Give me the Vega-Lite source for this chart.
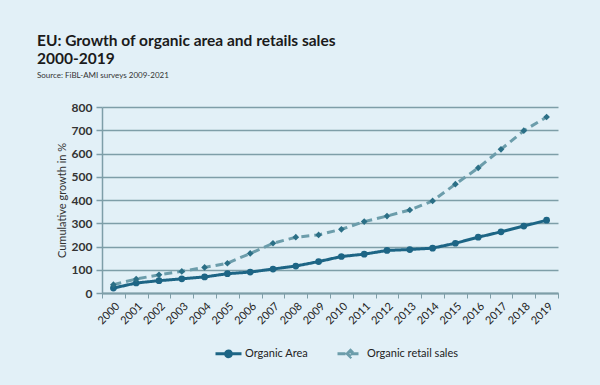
{
  "$schema": "https://vega.github.io/schema/vega-lite/v6.json",
  "autosize": {"type": "none"},
  "width": 456,
  "height": 186,
  "padding": {"left": 102, "top": 107, "right": 42, "bottom": 92},
  "background": "#e2f0f7",
  "title": {
    "text": ["EU: Growth of organic area and retails sales", "2000-2019"],
    "subtitle": "Source: FiBL-AMI surveys 2009-2021",
    "anchor": "start",
    "frame": "group",
    "dx": -65,
    "offset": 21,
    "font": "Lato",
    "fontSize": 15.5,
    "fontWeight": "bold",
    "color": "#1b1b1b",
    "lineHeight": 17.5,
    "subtitleFont": "Lato",
    "subtitleFontSize": 8,
    "subtitleColor": "#333333",
    "subtitlePadding": 5
  },
  "data": {
    "values": [
      {"year": "2000", "series": "Organic Area", "value": 21},
      {"year": "2001", "series": "Organic Area", "value": 43},
      {"year": "2002", "series": "Organic Area", "value": 53},
      {"year": "2003", "series": "Organic Area", "value": 61},
      {"year": "2004", "series": "Organic Area", "value": 69},
      {"year": "2005", "series": "Organic Area", "value": 83},
      {"year": "2006", "series": "Organic Area", "value": 90},
      {"year": "2007", "series": "Organic Area", "value": 103},
      {"year": "2008", "series": "Organic Area", "value": 116},
      {"year": "2009", "series": "Organic Area", "value": 135},
      {"year": "2010", "series": "Organic Area", "value": 157},
      {"year": "2011", "series": "Organic Area", "value": 167},
      {"year": "2012", "series": "Organic Area", "value": 183},
      {"year": "2013", "series": "Organic Area", "value": 187},
      {"year": "2014", "series": "Organic Area", "value": 193},
      {"year": "2015", "series": "Organic Area", "value": 214},
      {"year": "2016", "series": "Organic Area", "value": 240},
      {"year": "2017", "series": "Organic Area", "value": 263},
      {"year": "2018", "series": "Organic Area", "value": 288},
      {"year": "2019", "series": "Organic Area", "value": 313},
      {"year": "2000", "series": "Organic retail sales", "value": 36},
      {"year": "2001", "series": "Organic retail sales", "value": 60},
      {"year": "2002", "series": "Organic retail sales", "value": 78},
      {"year": "2003", "series": "Organic retail sales", "value": 93},
      {"year": "2004", "series": "Organic retail sales", "value": 110},
      {"year": "2005", "series": "Organic retail sales", "value": 128},
      {"year": "2006", "series": "Organic retail sales", "value": 170},
      {"year": "2007", "series": "Organic retail sales", "value": 214},
      {"year": "2008", "series": "Organic retail sales", "value": 240},
      {"year": "2009", "series": "Organic retail sales", "value": 250},
      {"year": "2010", "series": "Organic retail sales", "value": 274},
      {"year": "2011", "series": "Organic retail sales", "value": 307},
      {"year": "2012", "series": "Organic retail sales", "value": 331},
      {"year": "2013", "series": "Organic retail sales", "value": 357},
      {"year": "2014", "series": "Organic retail sales", "value": 396},
      {"year": "2015", "series": "Organic retail sales", "value": 468},
      {"year": "2016", "series": "Organic retail sales", "value": 538},
      {"year": "2017", "series": "Organic retail sales", "value": 618},
      {"year": "2018", "series": "Organic retail sales", "value": 698},
      {"year": "2019", "series": "Organic retail sales", "value": 757}
    ]
  },
  "encoding": {
    "x": {
      "field": "year",
      "type": "ordinal",
      "bandPosition": 0.5,
      "scale": {"type": "band", "paddingInner": 0, "paddingOuter": 0},
      "axis": {
        "title": null,
        "labelAngle": -45,
        "labelFont": "Lato",
        "labelFontSize": 11,
        "labelColor": "#222222",
        "tickBand": "extent",
        "tickColor": "#7e9ea8",
        "tickSize": 5,
        "domainColor": "#7e9ea8",
        "domainWidth": 2,
        "labelPadding": 2
      }
    },
    "y": {
      "field": "value",
      "type": "quantitative",
      "scale": {"domain": [0, 800]},
      "axis": {
        "title": "Cumulative growth in %",
        "titleFont": "Lato",
        "titleFontSize": 11,
        "titleFontWeight": "normal",
        "titleColor": "#333333",
        "titleX": -35,
        "values": [0, 100, 200, 300, 400, 500, 600, 700, 800],
        "labelFont": "Lato",
        "labelFontSize": 12,
        "labelFontWeight": "bold",
        "labelColor": "#333333",
        "labelPadding": 4,
        "grid": true,
        "gridColor": "#7e9ea8",
        "gridWidth": 1.5,
        "tickColor": "#7e9ea8",
        "tickSize": 6,
        "tickWidth": 1.5,
        "domainColor": "#7e9ea8",
        "domainWidth": 1.5
      }
    }
  },
  "layer": [
    {
      "mark": {"type": "line", "strokeWidth": 3},
      "encoding": {
        "color": {
          "field": "series",
          "type": "nominal",
          "scale": {"domain": ["Organic Area", "Organic retail sales"], "range": ["#1d6585", "#6c9dab"]},
          "legend": {
            "title": null,
            "orient": "none",
            "legendX": 112,
            "legendY": 232,
            "direction": "horizontal",
            "labelFont": "Lato",
            "labelFontSize": 11,
            "labelColor": "#222222",
            "symbolType": "M-1,0H1M-0.25,0L0,-0.25L0.25,0L0,0.25Z",
            "symbolSize": 676,
            "symbolStrokeWidth": 3,
            "columnPadding": 22,
            "labelOffset": 2,
            "encode": {
              "symbols": {
                "update": {
                  "shape": {"signal": "datum.value === 'Organic Area' ? 'M-1,0H1M-0.22,0A0.22,0.22 0 1,0 0.22,0A0.22,0.22 0 1,0 -0.22,0Z' : 'M-1,0H1M-0.25,0L0,-0.25L0.25,0L0,0.25Z'"},
                  "strokeDash": {"signal": "datum.value === 'Organic retail sales' ? [4, 3] : [1, 0]"}
                }
              }
            }
          }
        },
        "strokeDash": {
          "field": "series",
          "type": "nominal",
          "scale": {"domain": ["Organic Area", "Organic retail sales"], "range": [[1, 0], [8, 5]]},
          "legend": null
        }
      }
    },
    {
      "transform": [{"filter": "datum.series === 'Organic Area'"}],
      "mark": {"type": "point", "filled": true, "opacity": 1, "size": 45, "shape": "circle", "color": "#1d6585"}
    },
    {
      "transform": [{"filter": "datum.series === 'Organic retail sales'"}],
      "mark": {"type": "point", "filled": true, "opacity": 1, "size": 45, "shape": "diamond", "color": "#2b6f86"}
    }
  ],
  "config": {
    "view": {"stroke": null},
    "font": "Lato"
  }
}
